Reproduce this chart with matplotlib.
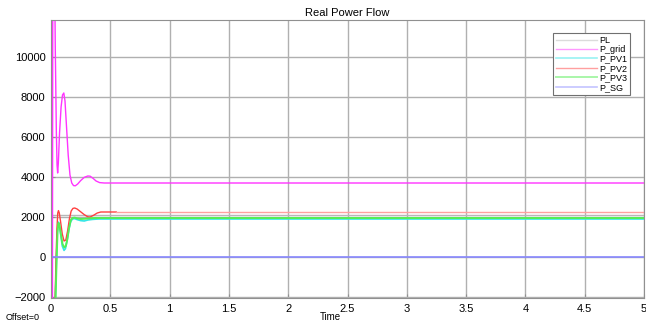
import matplotlib.pyplot as plt

plt.rcParams["font.family"] = ["Liberation Sans", "DejaVu Sans"]

# Simulated power flows (W) against time (s)
t_pl = [0.0, 5.0]
p_pl = [2100, 2100]

t_grid = [0.0, 0.012, 0.015, 0.031, 0.036, 0.045, 0.051, 0.056, 0.062, 0.072, 0.085,
          0.097, 0.108, 0.118, 0.13, 0.145, 0.16, 0.175, 0.19, 0.205, 0.225, 0.25,
          0.28, 0.31, 0.33, 0.355, 0.38, 0.41, 0.45, 5.0]
p_grid = [-3000, -3000, 14000, 14000, 10500, 6300, 4600, 4200, 4700, 6200, 7500,
          8100, 8200, 7800, 6600, 5100, 4100, 3700, 3570, 3560, 3650, 3820,
          3980, 4050, 4040, 3930, 3800, 3720, 3700, 3700]

t_pv1 = [0.0, 0.036, 0.045, 0.053, 0.06, 0.068, 0.08, 0.095, 0.11, 0.122, 0.135,
         0.15, 0.165, 0.18, 0.2, 0.22, 0.25, 0.28, 0.31, 0.35, 0.4, 0.5, 5.0]
p_pv1 = [-2200, -2200, -300, 1200, 1750, 1700, 1200, 550, 330, 420, 800,
         1350, 1750, 1900, 1920, 1870, 1820, 1800, 1850, 1880, 1900, 1900, 1900]

t_pv2 = [0.0, 0.034, 0.042, 0.05, 0.057, 0.063, 0.07, 0.08, 0.095, 0.11, 0.125,
         0.14, 0.155, 0.17, 0.185, 0.2, 0.22, 0.25, 0.28, 0.31, 0.33, 0.36,
         0.39, 0.42, 0.55]
p_pv2 = [-2200, -2200, -200, 1400, 2200, 2320, 2200, 1800, 1150, 800, 850,
         1300, 1900, 2300, 2430, 2450, 2400, 2260, 2120, 2010, 2000, 2090,
         2200, 2250, 2250]
t_pv2_tail = [0.55, 5.0]
p_pv2_tail = [2250, 2250]

t_pv3 = [0.0, 0.038, 0.047, 0.055, 0.062, 0.07, 0.082, 0.097, 0.112, 0.125, 0.138,
         0.152, 0.167, 0.182, 0.2, 0.22, 0.25, 0.28, 0.32, 0.37, 0.45, 5.0]
p_pv3 = [-2200, -2200, -200, 1250, 1700, 1650, 1200, 650, 480, 550, 900,
         1450, 1850, 1950, 1970, 1930, 1900, 1910, 1930, 1950, 1950, 1950]

t_sg = [0.0, 5.0]
p_sg = [0, 0]

xticks = [0, 0.5, 1, 1.5, 2, 2.5, 3, 3.5, 4, 4.5, 5]
xticklabels = ["0", "0.5", "1", "1.5", "2", "2.5", "3", "3.5", "4", "4.5", "5"]
yticks = [-2000, 0, 2000, 4000, 6000, 8000, 10000]

fig = plt.figure(figsize=(6.46, 3.22), dpi=100)
ax = fig.add_axes([51 / 646, 24 / 322, 593 / 646, 278 / 322])

ax.plot(t_pl, p_pl, color="#b8b8b8", lw=1.0, label="PL")
ax.plot(t_grid, p_grid, color="#ff33ff", lw=1.0, label="P_grid")
ax.plot(t_pv1, p_pv1, color="#33e6e6", lw=1.2, label="P_PV1")
ax.plot(t_pv2, p_pv2, color="#ff4040", lw=1.0, label="P_PV2")
ax.plot(t_pv2_tail, p_pv2_tail, color="#ffa0a0", lw=1.0)
ax.plot(t_pv3, p_pv3, color="#55ee55", lw=1.4, label="P_PV3")
ax.plot(t_sg, p_sg, color="#8888ff", lw=1.2, label="P_SG")

ax.set_xlim(0, 5)
ax.set_ylim(-2050, 11850)
ax.set_xticks(xticks)
ax.set_xticklabels(xticklabels)
ax.set_yticks(yticks)
ax.tick_params(direction="in", length=3, labelsize=8, color="#909090", pad=4)
ax.grid(True, color="#b0b0b0", lw=1.0)
for sp in ax.spines.values():
    sp.set_color("#909090")

ax.set_title("Real Power Flow", fontsize=8, pad=3)
fig.text(330 / 646, 0.5 / 322, "Time", fontsize=7, ha="center", va="bottom")
fig.text(6 / 646, 0.5 / 322, "Offset=0", fontsize=6.5, ha="left", va="bottom")

leg = ax.legend(loc="upper right", bbox_to_anchor=(630 / 646, 1 - 33 / 322),
                bbox_transform=fig.transFigure, fontsize=6.5, fancybox=False,
                framealpha=1, edgecolor="#707070", handlelength=4.5,
                handletextpad=0.3, labelspacing=0.05, borderpad=0.3,
                borderaxespad=0)
leg.get_frame().set_linewidth(0.8)
for line in leg.get_lines():
    line.set_alpha(0.5)

fig.savefig("out.png", dpi=100)
